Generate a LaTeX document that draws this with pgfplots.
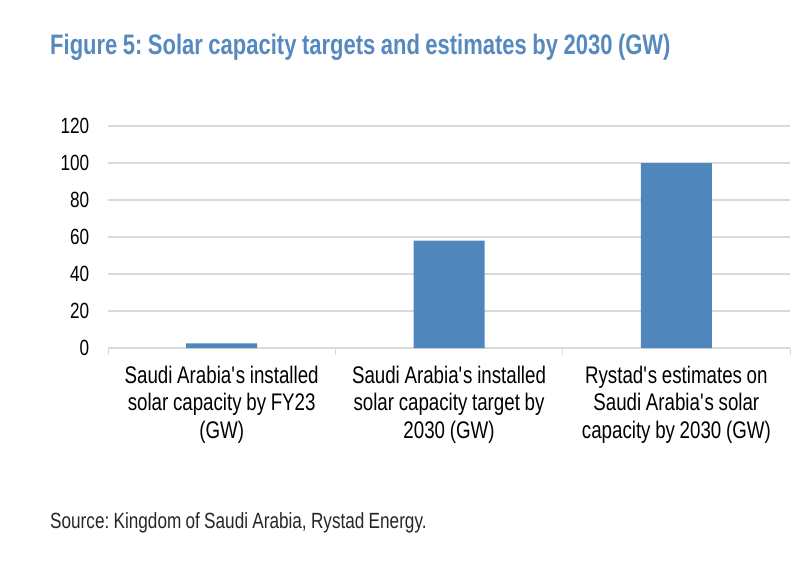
\documentclass[border=0pt]{standalone}
\usepackage{pgfplots}
\pgfplotsset{compat=1.18}
\usepackage{fontspec}
\setmainfont{Liberation Sans}[FakeStretch=0.78, WordSpace=0.9]
\definecolor{barblue}{HTML}{4F87BD}
\definecolor{titleblue}{HTML}{5689BE}
\definecolor{gridgray}{HTML}{D9D9D9}
\newcommand{\q}{\textquotesingle}
\frenchspacing
\begin{document}
\begin{tikzpicture}[x=1bp,y=1bp]
\path[use as bounding box] (0,0) rectangle (810,-569);
\node[anchor=base west,text=titleblue,font=\fontsize{28.2bp}{32bp}\selectfont\bfseries,inner sep=0] at (50,-55) {Figure 5: Solar capacity targets and estimates by 2030 (GW)};
\node[anchor=base west,text=black!85,font=\fontsize{22bp}{25bp}\selectfont,inner sep=0] at (50,-528) {Source: Kingdom of Saudi Arabia, Rystad Energy.};
\begin{axis}[
    at={(108bp,-348bp)}, anchor=south west,
    scale only axis, width=682bp, height=222bp,
    ymin=0, ymax=120, ytick={0,20,...,120},
    xmin=-0.5, xmax=2.5,
    xtick={0,1,2},
    xticklabels={Saudi Arabia\q s installed\\solar capacity by FY23\\(GW),
                 Saudi Arabia\q s installed\\solar capacity target by\\2030 (GW),
                 Rystad\q s estimates on\\Saudi Arabia\q s solar\\capacity by 2030 (GW)},
    minor xtick={-0.5,0.5,1.5,2.5},
    major x tick style={draw=none},
    minor tick length=7bp,
    minor x tick style={gridgray, line width=1bp},
    tick align=outside,
    axis x line*=bottom, axis y line*=left,
    x axis line style={gridgray, line width=1.2bp, -},
    y axis line style={draw=none},
    major y tick style={draw=none},
    ymajorgrids, grid style={gridgray, line width=1.2bp},
    xticklabel style={align=center, font=\fontsize{24bp}{27.5bp}\selectfont, yshift=-10bp},
    yticklabel style={font=\fontsize{22bp}{25bp}\selectfont, xshift=-11bp},
    /pgf/number format/assume math mode=true,
    ybar, bar width=71bp,
    clip=false,
]
\addplot[fill=barblue, draw=none] coordinates {(0,2.5) (1,58) (2,100)};
\end{axis}
\end{tikzpicture}
\end{document}
